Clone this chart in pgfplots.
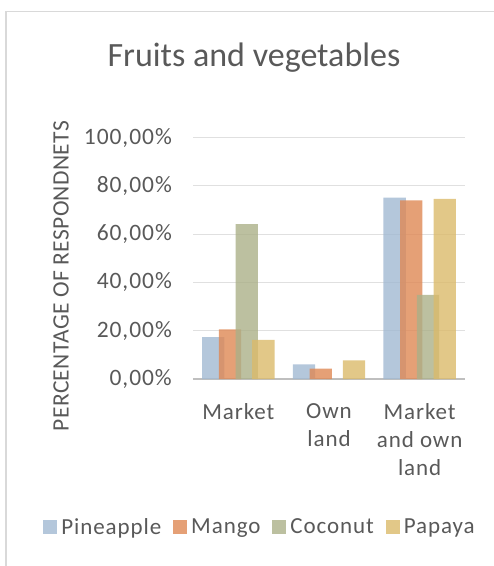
\documentclass[border=0pt]{standalone}
\usepackage{pgfplots}
\pgfplotsset{compat=1.18}
\usepackage{fontspec}
\setmainfont{Carlito}
\newfontfamily\spaced[LetterSpace=4]{Carlito}
\newfontfamily\spacedlab[LetterSpace=1.5]{Carlito}
\definecolor{txt}{RGB}{89,89,89}
\definecolor{gridc}{RGB}{224,224,224}
\definecolor{axc}{RGB}{191,191,191}
\definecolor{framec}{RGB}{217,217,217}
\definecolor{cPine}{RGB}{161,185,210}
\definecolor{cMango}{RGB}{223,136,84}
\definecolor{cCoco}{RGB}{171,176,136}
\definecolor{cPapa}{RGB}{219,186,106}
\begin{document}
\begin{tikzpicture}
\useasboundingbox (0pt,0pt) rectangle (494pt,566pt);
\draw[framec, line width=1.5pt] (6pt,0pt) -- (6pt,554.5pt) -- (494pt,554.5pt);
\node[txt, font=\fontsize{34}{40}\selectfont] at (254pt,508pt) {Fruits and vegetables};
\node[txt, rotate=90, font=\spacedlab\fontsize{23.5}{28}\selectfont] at (61pt,290pt) {PERCENTAGE OF RESPONDNETS};
\begin{axis}[
  at={(193pt,187pt)}, anchor=south west,
  scale only axis, width=272pt, height=241.5pt,
  ymin=0, ymax=100, xmin=-0.5, xmax=2.5,
  ybar, bar width=0.246,
  xtick={0,1,2},
  xticklabels={Market, {Own\\land}, {Market\\and own\\land}},
  ytick={0,20,40,60,80,100},
  yticklabels={{0,00\%},{20,00\%},{40,00\%},{60,00\%},{80,00\%},{100,00\%}},
  major tick length=0pt,
  axis lines*=left,
  x axis line style={draw=axc, line width=2pt, -},
  y axis line style={draw=none},
  ymajorgrids, grid style={draw=gridc, line width=1pt},
  xticklabel style={align=center, font=\spaced\fontsize{23}{28}\selectfont, text=txt, inner sep=0pt, anchor=north, yshift=-24pt},
  yticklabel style={font=\spaced\fontsize{23.5}{28}\selectfont, text=txt, inner sep=0pt, anchor=east, xshift=-21pt},
  legend columns=-1,
  legend style={at={(0.2426,-0.613)}, anchor=center, draw=none, fill=none,
    font=\spaced\fontsize{23}{28}\selectfont, text=txt,
    nodes={inner sep=0pt},
    /tikz/every even column/.append style={column sep=12pt},
    /tikz/every odd column/.append style={column sep=4pt}},
  legend image code/.code={\fill[#1] (0pt,-7pt) rectangle (14pt,7pt);},
]
\addplot[fill=cPine, draw=none, fill opacity=0.8, bar shift=-0.276] coordinates {(0,17.3) (1,6.1) (2,75.1)};
\addplot[fill=cMango, draw=none, fill opacity=0.8, bar shift=-0.092] coordinates {(0,20.6) (1,4.3) (2,74.0)};
\addplot[fill=cCoco, draw=none, fill opacity=0.8, bar shift=0.092] coordinates {(0,64.1) (1,0) (2,34.8)};
\addplot[fill=cPapa, draw=none, fill opacity=0.8, bar shift=0.276] coordinates {(0,16.2) (1,7.7) (2,74.6)};
\legend{Pineapple, Mango, Coconut, Papaya}
\end{axis}
\end{tikzpicture}
\end{document}
